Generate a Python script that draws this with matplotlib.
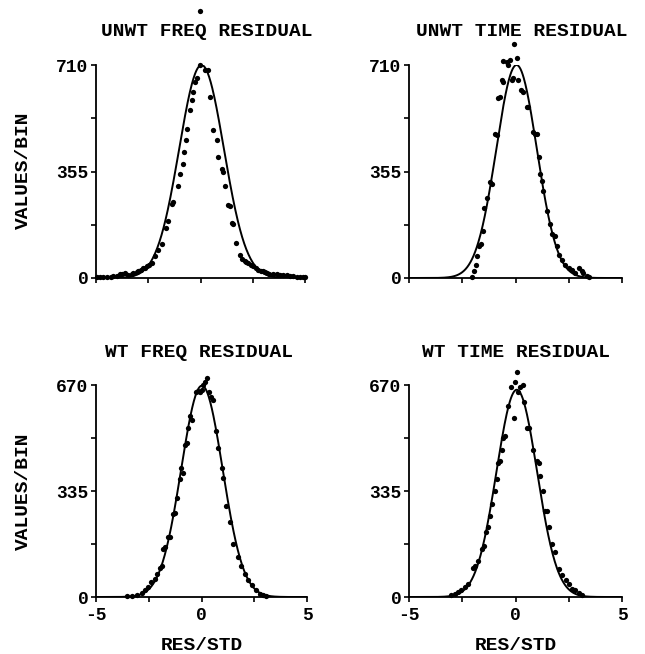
#!/usr/bin/env python3

import numpy as np
import matplotlib.pyplot as plt

# histogram points (bin centre in RES/STD, values per bin)
unwt_freq_x = [-4.95, -4.81, -4.65, -4.49, -4.3, -4.17, -4.0, -3.85, -3.75, -3.61, -3.45,
               -3.3, -3.21, -3.05, -2.97, -2.85, -2.74, -2.65, -2.58, -2.45, -2.34, -2.18,
               -2.02, -1.86, -1.65, -1.54, -1.38, -1.30, -1.06, -0.98, -0.85, -0.79, -0.69,
               -0.63, -0.50, -0.42, -0.34, -0.26, -0.18, -0.02, 0.22, 0.37, 0.45, 0.61,
               0.77, 0.85, 1.01, 1.06, 1.17, 1.33, 1.41, 1.49, 1.57, 1.70, 1.89, 2.0,
               2.13, 2.2, 2.29, 2.4, 2.53, 2.65, 2.77, 2.9, 3.01, 3.1, 3.17, 3.3, 3.49,
               3.65, 3.80, 3.95, 4.12, 4.3, 4.44, 4.6, 4.76, 4.9, 5.0]
unwt_freq_y = [3, 4.5, 4, 4.5, 5, 6.7, 8, 13.4, 12, 16.8, 11.2,
               14, 16.8, 20, 24.6, 28, 33.5, 35, 39.1, 45, 50.3, 72.7,
               95, 111.8, 167.7, 190.1, 246, 253.8, 307.5, 346.6, 380.1, 419.3, 458.4,
               497.5, 559, 592.5, 620.4, 654, 665.2, 709.9, 693.1, 693.1, 603.7, 491.9,
               458.4, 402.5, 363.4, 352.2, 307.5, 243.8, 240.4, 184.5, 178.9, 117.4, 78.3, 65,
               55.9, 52, 50.3, 45, 39.1, 33, 27.9, 25, 22.4, 19, 16.8, 15, 13.4,
               12, 11.2, 10, 8.9, 7, 5.6, 5, 4.5, 3, 2.2]
unwt_freq_outlier = (-0.02, 890)

unwt_time_x = [-2.06, -1.95, -1.86, -1.80, -1.70, -1.61, -1.51, -1.47, -1.36, -1.20, -1.12,
               -0.97, -0.89, -0.81, -0.73, -0.65, -0.60, -0.57, -0.42, -0.34, -0.26, -0.18,
               -0.10, -0.05, 0.05, 0.13, 0.26, 0.37, 0.53, 0.60, 0.84, 0.92, 1.00, 1.08,
               1.15, 1.23, 1.31, 1.47, 1.63, 1.70, 1.86, 1.94, 2.06, 2.17, 2.33, 2.49,
               2.65, 2.80, 2.96, 3.12, 3.19, 3.35, 3.43]
unwt_time_y = [2.2, 22.4, 44.7, 72.7, 106.2, 111.8, 156.5, 234.8, 268.3, 318.6, 313.0,
               480.7, 475.1, 598.7, 604.3, 660.2, 654.6, 723.4, 721.2, 710, 726.8, 660.2,
               665.8, 779, 732.4, 661, 625.9, 620.4, 570.1, 570.1, 486.3, 480.7, 480.7, 402.5,
               346.6, 324.2, 290.7, 223.6, 178.9, 145.3, 139.7, 106.2, 78.3, 61.5, 44.7, 33.5,
               27.9, 16.8, 33.5, 22.4, 16.8, 5.6, 2.2]

wt_freq_x = [-3.55, -3.31, -3.08, -2.84, -2.68, -2.52, -2.37, -2.21, -2.13, -1.97, -1.89,
             -1.81, -1.74, -1.58, -1.50, -1.34, -1.26, -1.18, -1.03, -0.98, -0.87, -0.79,
             -0.71, -0.63, -0.55, -0.47, -0.24, -0.16, -0.08, 0.00, 0.08, 0.16, 0.27,
             0.36, 0.43, 0.55, 0.71, 0.79, 0.95, 1.03, 1.18, 1.34, 1.50, 1.73, 1.89,
             2.05, 2.21, 2.37, 2.60, 2.76, 2.92, 3.08]
wt_freq_y = [2.1, 3.1, 5.2, 12.6, 20.9, 31.4, 47.1, 57.6, 73.3, 92.1, 99.5,
             151.8, 157.0, 188.5, 190.6, 261.8, 267.0, 314.1, 371.7, 408.3, 392.6, 481.6,
             486.8, 534.0, 570.6, 560.1, 649.1, 651.2, 649.1, 654.3, 670.1, 680.6, 691.0,
             649.1, 633.4, 622.9, 523.5, 471.2, 408.3, 376.9, 287.9, 235.6, 167.5, 125.6, 99.5,
             73.3, 52.4, 36.6, 20.9, 10.5, 5.2, 2.1]

wt_time_x = [-3.01, -2.85, -2.69, -2.54, -2.38, -2.22, -1.99, -1.91, -1.75, -1.59, -1.47,
             -1.39, -1.28, -1.20, -1.08, -0.97, -0.89, -0.81, -0.73, -0.65, -0.57, -0.49,
             -0.34, -0.23, -0.05, -0.02, 0.05, 0.10, 0.21, 0.37, 0.40, 0.53, 0.65, 0.84,
             1.00, 1.08, 1.15, 1.31, 1.39, 1.47, 1.59, 1.70, 1.86, 2.02, 2.17, 2.38,
             2.49, 2.65, 2.80, 2.96, 3.12]
wt_time_y = [5.2, 10.5, 15.7, 23.0, 31.4, 41.9, 92.1, 99.5, 115.2, 151.8, 162.3,
             204.2, 219.9, 256.5, 293.1, 335.0, 371.7, 424.0, 429.3, 465.9, 502.6, 507.8,
             602.1, 664.9, 565.4, 680.4, 711.8, 649.1, 664.9, 670.1, 617.8, 534.0, 534.0, 466.0,
             429.3, 424.0, 382.2, 335.0, 272.2, 272.2, 219.9, 167.5, 141.4, 89.0, 68.1, 52.4,
             41.9, 26.2, 20.9, 12.6, 5.2]

# fitted normal curves: peak height, mean, sigma
fit_unwt_freq = (710, 0.05, 1.07)
fit_unwt_time = (710, 0.05, 0.95)
fit_wt_freq = (668, 0.02, 0.98)
fit_wt_time = (655, 0.06, 0.95)

titles = ["UNWT FREQ RESIDUAL", "UNWT TIME RESIDUAL", "WT FREQ RESIDUAL", "WT TIME RESIDUAL"]
ymax_top = 710
ymax_bottom = 670
xtick_labels = ["-5", "0", "5"]

FONT = "Liberation Mono"
plt.rcParams["font.family"] = FONT
plt.rcParams["font.weight"] = "bold"


def plot_panel(ax, x, y, fit, ymax, title, title_x, bottom):
    peak, mu, sigma = fit
    xs = np.linspace(-5, 5, 400)
    ax.plot(xs, peak * np.exp(-0.5 * ((xs - mu) / sigma) ** 2), color="black", lw=1.4)
    ax.plot(x, y, "o", color="black", ms=3.8, mec="none", clip_on=False)

    ax.set_xlim(-5, 5)
    ax.set_ylim(0, ymax)
    for side in ["top", "right"]:
        ax.spines[side].set_visible(False)
    for side in ["left", "bottom"]:
        ax.spines[side].set_linewidth(1.3)

    ax.set_yticks(np.linspace(0, ymax, 5))
    ax.set_yticklabels([str(ymax), "", str(ymax // 2), "", "0"][::-1], fontsize=13)
    ax.set_xticks([-5, -2.5, 0, 2.5, 5])
    if bottom:
        ax.set_xticklabels([xtick_labels[0], "", xtick_labels[1], "", xtick_labels[2]], fontsize=13)
        # axis label placed by hand so it stays inside the canvas
        ax.text(0.5, -49 / 212, "RES/STD", transform=ax.transAxes, ha="center",
                va="center", fontsize=14)
    else:
        ax.set_xticklabels([])
    ax.tick_params(axis="both", direction="out", length=3.5, width=1.2, pad=2)
    ax.tick_params(axis="x", pad=4)

    ax.text(title_x, 1.155, title, transform=ax.transAxes, ha="center", va="center",
            fontsize=14)


fig = plt.figure(figsize=(6.45, 6.54), dpi=100)
W, H = 645.0, 654.0

ax1 = fig.add_axes([96 / W, 1 - 278 / H, 209 / W, 213 / H])
ax2 = fig.add_axes([409 / W, 1 - 278 / H, 213 / W, 213 / H])
ax3 = fig.add_axes([96 / W, 1 - 597 / H, 211 / W, 212 / H])
ax4 = fig.add_axes([409 / W, 1 - 597 / H, 213 / W, 212 / H])

plot_panel(ax1, unwt_freq_x, unwt_freq_y, fit_unwt_freq, ymax_top, titles[0], 0.53, False)
ax1.plot([unwt_freq_outlier[0]], [unwt_freq_outlier[1]], "o", color="black", ms=3.8,
         mec="none", clip_on=False)
plot_panel(ax2, unwt_time_x, unwt_time_y, fit_unwt_time, ymax_top, titles[1], 0.53, False)
plot_panel(ax3, wt_freq_x, wt_freq_y, fit_wt_freq, ymax_bottom, titles[2], 0.49, True)
plot_panel(ax4, wt_time_x, wt_time_y, fit_wt_time, ymax_bottom, titles[3], 0.5, True)

fig.text(23 / W, 1 - 170 / H, "VALUES/BIN", rotation=90, ha="center", va="center", fontsize=14)
fig.text(23 / W, 1 - 491 / H, "VALUES/BIN", rotation=90, ha="center", va="center", fontsize=14)

fig.savefig("out.png", dpi=100)
